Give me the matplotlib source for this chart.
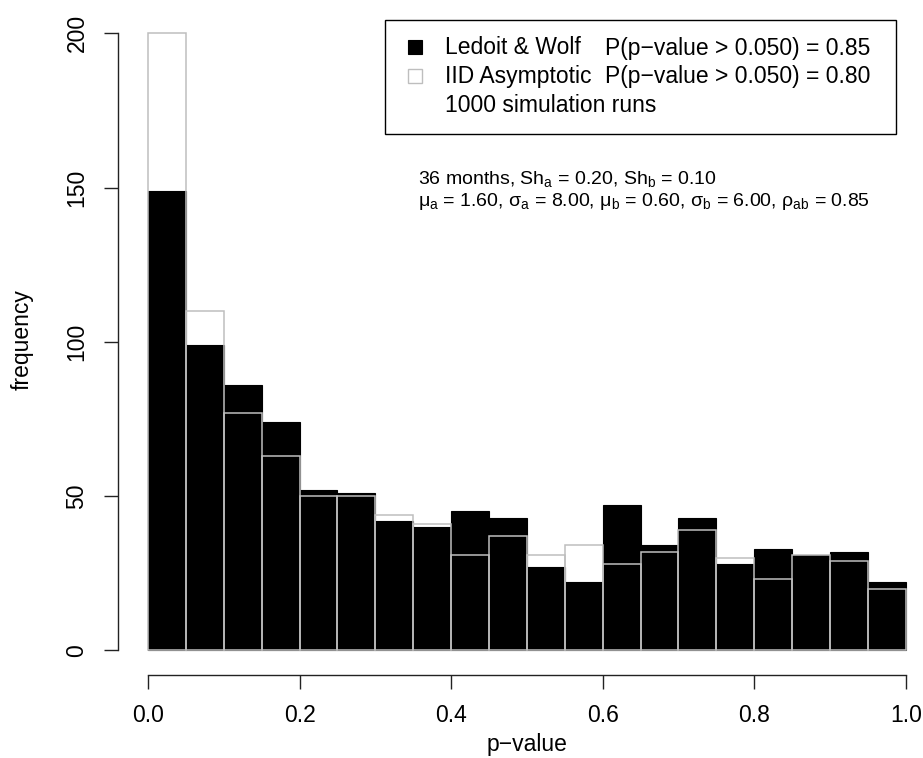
import numpy as np
import matplotlib
matplotlib.use("Agg")
import matplotlib.pyplot as plt
from matplotlib.patches import Rectangle

plt.rcParams["font.family"] = ["Liberation Sans", "DejaVu Sans"]
plt.rcParams["mathtext.fontset"] = "custom"
plt.rcParams["mathtext.rm"] = "Liberation Sans"
plt.rcParams["mathtext.it"] = "Liberation Sans"

# histogram counts, 20 bins of width 0.05 over [0, 1]
bin_width = 0.05
bin_starts = np.arange(20) * bin_width
lw_counts = [149, 99, 86, 74, 52, 51, 42, 40, 45, 43,
             27, 22, 47, 34, 43, 28, 33, 31, 32, 22]
iid_counts = [200, 110, 77, 63, 50, 50, 44, 41, 31, 37,
              31, 34, 28, 32, 39, 30, 23, 31, 29, 20]

x_ticks = [0.0, 0.2, 0.4, 0.6, 0.8, 1.0]
y_ticks = [0, 50, 100, 150, 200]

legend_rows = [
    ("Ledoit & Wolf", "P(p\u2212value > 0.050) = 0.85"),
    ("IID Asymptotic", "P(p\u2212value > 0.050) = 0.80"),
    ("1000 simulation runs", ""),
]
note_lines = [
    r"36 months, Sh$_\mathregular{a}$ = 0.20, Sh$_\mathregular{b}$ = 0.10",
    r"$\mathregular{\mu_a}$ = 1.60, $\mathregular{\sigma_a}$ = 8.00, "
    r"$\mathregular{\mu_b}$ = 0.60, $\mathregular{\sigma_b}$ = 6.00, "
    r"$\mathregular{\rho_{ab}}$ = 0.85",
]

W, H = 923, 758
FS = 16.5
fig = plt.figure(figsize=(W / 100, H / 100), dpi=100)


def fx(px):
    return px / W


def fy(py):
    return 1 - py / H


left, right, top, bottom = 117.7, 936.0, 8.6, 675.0
ax = fig.add_axes([fx(left), fy(bottom), (right - left) / W, (bottom - top) / H])

ax.bar(bin_starts, lw_counts, width=bin_width, align="edge",
       color="black", edgecolor="black", linewidth=0.8)
ax.bar(bin_starts, iid_counts, width=bin_width, align="edge",
       facecolor="none", edgecolor="#bebebe", linewidth=1.1)

ax.set_xlim(-0.04, 1.04)
ax.set_ylim(-8, 208)
for s in ["top", "right"]:
    ax.spines[s].set_visible(False)
ax.spines["left"].set_bounds(0, 200)
ax.spines["bottom"].set_bounds(0, 1)
for s in ["left", "bottom"]:
    ax.spines[s].set_linewidth(1.0)
    ax.spines[s].set_color("#222222")

ax.set_xticks(x_ticks)
ax.set_xticklabels([f"{v:.1f}" for v in x_ticks])
ax.set_yticks(y_ticks)
ax.set_yticklabels([str(v) for v in y_ticks], rotation=90, va="center")
ax.tick_params(axis="both", length=10, width=1.0, color="#222222",
               labelsize=FS, direction="out")
ax.tick_params(axis="x", pad=11)
ax.tick_params(axis="y", pad=11)

fig.text(fx(527), fy(745), "p\u2212value", ha="center", va="center", fontsize=FS)
fig.text(fx(22), fy(340), "frequency", ha="center", va="center",
         rotation=90, fontsize=FS)

# legend box
fig.patches.append(Rectangle((fx(385), fy(134)), fx(896) - fx(385), fy(20) - fy(134),
                             transform=fig.transFigure, facecolor="white",
                             edgecolor="black", linewidth=1.0))
row_y = [48, 77, 105]
fig.patches.append(Rectangle((fx(408), fy(row_y[0] + 6)), fx(14), 14 / H,
                             transform=fig.transFigure, facecolor="black",
                             edgecolor="black", linewidth=0.8))
fig.patches.append(Rectangle((fx(408), fy(row_y[1] + 6)), fx(14), 14 / H,
                             transform=fig.transFigure, facecolor="white",
                             edgecolor="#bebebe", linewidth=1.0))
for (name, prob), yy in zip(legend_rows, row_y):
    fig.text(fx(445), fy(yy), name, ha="left", va="center", fontsize=FS)
    if prob:
        fig.text(fx(605), fy(yy), prob, ha="left", va="center", fontsize=FS)

for line, yy in zip(note_lines, [179, 201]):
    fig.text(fx(418), fy(yy), line, ha="left", va="center", fontsize=14)

fig.savefig("out.png", dpi=100)
plt.close(fig)
